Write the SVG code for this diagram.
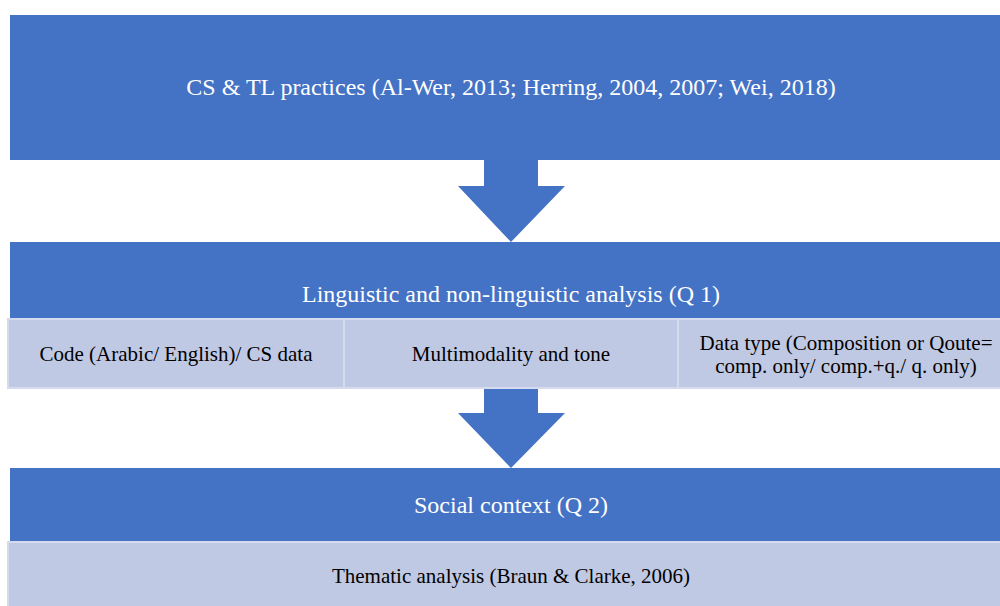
<svg xmlns="http://www.w3.org/2000/svg" width="1000" height="606" viewBox="0 0 1000 606" font-family="'Liberation Serif', 'DejaVu Serif', serif">
  <style>
    .blue { fill: #4472C4; }
    .light { fill: #C0C9E4; stroke: #D5DBEE; stroke-width: 2; }
    .arrow { fill: #4472C4; }
    .h { font-family: 'Liberation Serif', 'DejaVu Serif', serif; font-size: 24px; fill: #FFFFFF; text-anchor: middle; }
    .t { font-family: 'Liberation Serif', 'DejaVu Serif', serif; font-size: 21px; fill: #000000; text-anchor: middle; }
  </style>
  <rect width="1000" height="606" fill="#FFFFFF"/>
  <g id="connectors">
    <path class="arrow" d="M484,160 L538,160 L538,186 L565,186 L511,242 L458,186 L484,186 Z"/>
    <path class="arrow" d="M484,388 L538,388 L538,413 L565,413 L511,468 L458,413 L484,413 Z"/>
  </g>
  <g id="node-cs-tl">
    <rect class="blue" x="10" y="15" width="1002" height="145"/>
    <text class="h" x="511" y="95">CS &amp; TL practices (Al-Wer, 2013; Herring, 2004, 2007; Wei, 2018)</text>
  </g>
  <g id="node-linguistic">
    <rect class="blue" x="10" y="242" width="1002" height="77"/>
    <text class="h" x="511" y="302">Linguistic and non-linguistic analysis (Q 1)</text>
  </g>
  <g id="node-code">
    <rect class="light" x="8" y="319" width="336" height="69"/>
    <text class="t" x="176" y="361">Code (Arabic/ English)/ CS data</text>
  </g>
  <g id="node-multimodality">
    <rect class="light" x="344" y="319" width="334" height="69"/>
    <text class="t" x="511" y="361">Multimodality and tone</text>
  </g>
  <g id="node-datatype">
    <rect class="light" x="678" y="319" width="336" height="69"/>
    <text class="t" x="846" y="350">Data type (Composition or Qoute=</text>
    <text class="t" x="846" y="373">comp. only/ comp.+q./ q. only)</text>
  </g>
  <g id="node-social">
    <rect class="blue" x="10" y="468" width="1002" height="74"/>
    <text class="h" x="511" y="513">Social context (Q 2)</text>
  </g>
  <g id="node-thematic">
    <rect class="light" x="8" y="542" width="1006" height="72"/>
    <text class="t" x="511" y="583">Thematic analysis (Braun &amp; Clarke, 2006)</text>
  </g>
</svg>
